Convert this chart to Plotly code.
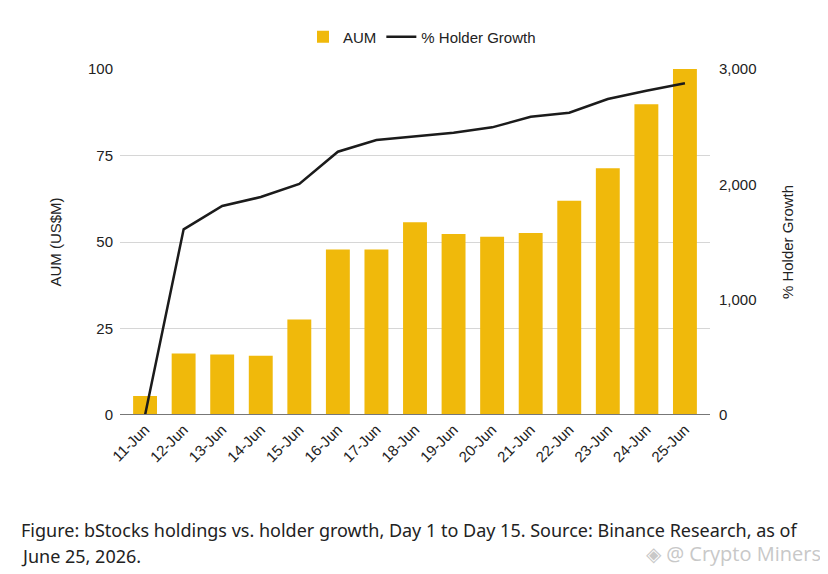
import plotly.graph_objects as go

# data
dates = ['11-Jun', '12-Jun', '13-Jun', '14-Jun', '15-Jun', '16-Jun', '17-Jun', '18-Jun',
         '19-Jun', '20-Jun', '21-Jun', '22-Jun', '23-Jun', '24-Jun', '25-Jun']
aum = [5.5, 17.8, 17.5, 17.1, 27.6, 47.8, 47.8, 55.7, 52.3, 51.5, 52.6, 61.9, 71.3, 89.8, 100]
holder_growth = [0, 1610, 1812, 1890, 2003, 2283, 2384, 2413, 2448, 2494, 2586, 2621, 2740, 2812, 2876]

left_ticks = [0, 25, 50, 75, 100]
right_ticks = [0, 1000, 2000, 3000]
right_labels = ['0', '1,000', '2,000', '3,000']

caption_1 = 'Figure: bStocks holdings vs. holder growth, Day 1 to Day 15. Source: Binance Research, as of'
caption_2 = 'June 25, 2026.'

# page has an 8px body margin, so the figure is drawn 8px smaller and offset
OFF = 8
W, H = 828 - OFF, 574 - OFF
L, T = 120 - OFF, 69 - OFF
pw, ph = 590, 346
R, B = W - L - pw, H - T - ph

def px(xp):  # page pixel x -> paper
    return (xp - OFF - L) / pw

def py(yp):  # page pixel y -> paper
    return (T + ph - (yp - OFF)) / ph

fig = go.Figure()
fig.add_trace(go.Bar(x=dates, y=aum, name='AUM', marker_color='#F0B90B',
                     marker_line_width=0, yaxis='y'))
fig.add_trace(go.Scatter(x=dates, y=holder_growth, name='% Holder Growth', mode='lines',
                         line=dict(color='#1b1b1b', width=2.5), yaxis='y2'))

axis_font = dict(family='Liberation Sans, Arial, sans-serif', size=15, color='#222')
title_font = dict(family='Liberation Sans, Arial, sans-serif', size=15, color='#222')

fig.update_layout(
    width=W, height=H,
    margin=dict(l=L, r=R, t=T, b=B),
    paper_bgcolor='white', plot_bgcolor='white',
    bargap=0.38,
    font=axis_font,
    showlegend=True,
    legend=dict(orientation='h', x=px(422), xanchor='center', y=py(37), yanchor='middle',
                font=dict(family='Liberation Sans, Arial, sans-serif', size=15, color='#222'),
                itemwidth=30, traceorder='normal'),
    xaxis=dict(range=[-0.65, 14.65], tickangle=-45, showgrid=False, showline=False,
               ticks='', tickfont=axis_font, zeroline=False, ticklabelstandoff=2),
    yaxis=dict(range=[0, 100], tickvals=left_ticks, showgrid=True, gridcolor='#d6d6d6',
               gridwidth=1, zeroline=False, showline=False, ticks='', ticklabelstandoff=6,
               title=dict(text='AUM (US$M)', font=title_font, standoff=22), tickfont=axis_font),
    yaxis2=dict(range=[0, 3000], tickvals=right_ticks, ticktext=right_labels, overlaying='y',
                side='right', showgrid=False, zeroline=False, showline=False, ticks='',
                ticklabelstandoff=8,
                title=dict(text='% Holder Growth', font=title_font, standoff=26), tickfont=axis_font),
    shapes=[dict(type='line', xref='paper', yref='y', x0=0, x1=1, y0=0, y1=0,
                 line=dict(color='#777', width=2), layer='above')],
    annotations=[
        dict(text=caption_1, xref='paper', yref='paper', x=px(20), y=py(530), xanchor='left',
             yanchor='middle', align='left', showarrow=False, borderpad=0,
             font=dict(family='Noto Sans, sans-serif', size=18, color='#222')),
        dict(text=caption_2, xref='paper', yref='paper', x=px(20), y=py(556), xanchor='left',
             yanchor='middle', align='left', showarrow=False, borderpad=0,
             font=dict(family='Noto Sans, sans-serif', size=18, color='#222')),
        dict(text='◈ @ Crypto Miners', xref='paper', yref='paper', x=px(822), y=py(553),
             xanchor='right', yanchor='middle', showarrow=False, borderpad=0,
             font=dict(family='Open Sans, sans-serif', size=20, color='#c8c8c8')),
    ],
)

fig.write_html('out.html')
